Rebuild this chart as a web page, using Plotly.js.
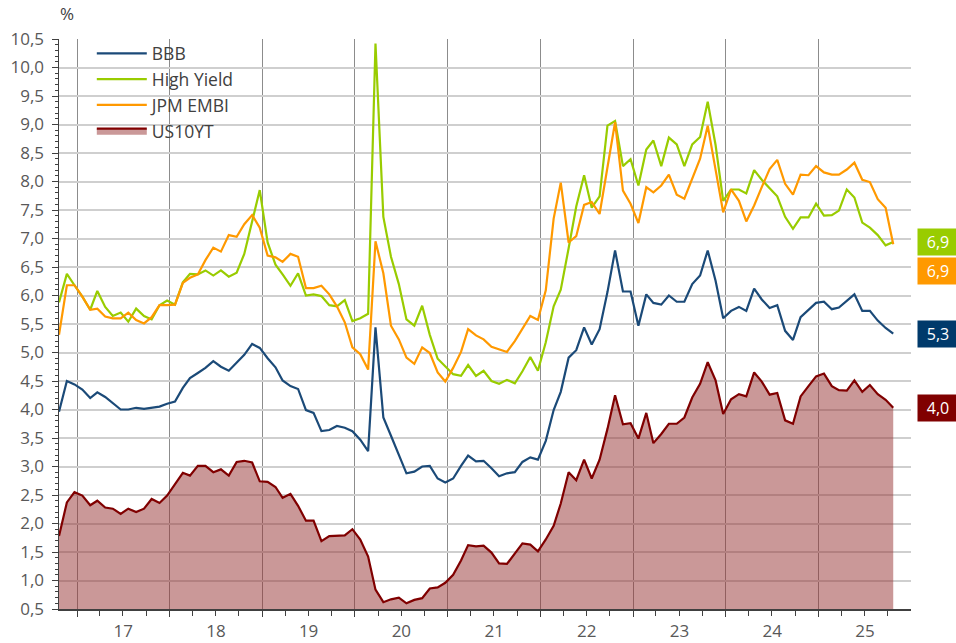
<!DOCTYPE html>
<html>
<head>
<meta charset="utf-8">
<script src="https://cdn.plot.ly/plotly-3.0.1.min.js"></script>
<style>
html,body{margin:0;padding:0;background:#fff;}
#chart{width:956px;height:643px;}
</style>
</head>
<body>
<div id="chart"></div>
<script>
// Monthly observations, Oct 2016 .. Oct 2025
const startYear = 2016, startMonth = 10, nPoints = 109;
const dates = [];
for (let k = 0; k < nPoints; k++) {
  const m0 = startMonth - 1 + k;
  const y = startYear + Math.floor(m0 / 12);
  const m = (m0 % 12) + 1;
  dates.push(y + '-' + String(m).padStart(2, '0') + '-22');
}

const seriesNames = ['BBB', 'High Yield', 'JPM EMBI', 'US10YT'];

const bbb = [3.96,4.50,4.44,4.35,4.20,4.30,4.22,4.11,4.00,4.00,4.03,4.01,4.03,4.05,4.10,4.14,4.38,4.55,4.64,4.73,
4.85,4.75,4.68,4.82,4.96,5.15,5.08,4.90,4.74,4.51,4.41,4.36,3.99,3.94,3.62,3.64,3.71,3.68,3.62,3.47,
3.27,5.44,3.86,3.54,3.21,2.88,2.91,3.00,3.01,2.79,2.72,2.79,3.01,3.19,3.09,3.10,2.97,2.83,2.88,2.90,
3.08,3.16,3.12,3.45,3.99,4.31,4.91,5.04,5.44,5.14,5.41,6.06,6.79,6.07,6.07,5.47,6.02,5.87,5.84,6.00,
5.89,5.89,6.20,6.35,6.79,6.26,5.60,5.73,5.80,5.73,6.12,5.93,5.78,5.83,5.38,5.22,5.62,5.75,5.87,5.89,
5.76,5.79,5.91,6.02,5.73,5.73,5.56,5.43,5.33];

const highYield = [5.88,6.38,6.18,5.98,5.75,6.08,5.80,5.64,5.70,5.54,5.77,5.64,5.58,5.83,5.91,5.84,6.23,6.38,6.37,6.44,
6.35,6.44,6.33,6.40,6.73,7.28,7.85,6.93,6.54,6.37,6.17,6.39,6.00,6.02,5.99,5.83,5.81,5.92,5.55,5.60,
5.68,10.42,7.38,6.68,6.20,5.58,5.47,5.82,5.31,4.89,4.76,4.62,4.59,4.78,4.59,4.68,4.50,4.45,4.52,4.46,
4.67,4.92,4.68,5.18,5.81,6.10,6.83,7.56,8.11,7.54,7.74,8.98,9.06,8.27,8.39,7.93,8.56,8.72,8.27,8.77,
8.65,8.27,8.65,8.78,9.40,8.64,7.66,7.86,7.86,7.79,8.20,8.03,7.88,7.74,7.38,7.17,7.37,7.37,7.61,7.40,
7.41,7.49,7.86,7.72,7.28,7.19,7.06,6.88,6.94];

const jpmEmbi = [5.31,6.18,6.18,5.98,5.75,5.77,5.63,5.60,5.60,5.70,5.57,5.51,5.62,5.83,5.83,5.84,6.22,6.31,6.37,6.62,
6.84,6.77,7.06,7.03,7.25,7.41,7.19,6.70,6.67,6.59,6.73,6.68,6.13,6.13,6.17,6.02,5.81,5.53,5.09,4.97,
4.70,6.95,6.39,5.47,5.23,4.91,4.80,5.09,4.99,4.65,4.49,4.73,5.01,5.41,5.30,5.23,5.10,5.05,5.01,5.20,
5.41,5.64,5.57,6.09,7.35,7.98,6.93,7.04,7.59,7.64,7.43,8.22,9.04,7.84,7.61,7.27,7.90,7.81,7.93,8.12,
7.77,7.70,8.06,8.40,8.98,8.22,7.46,7.86,7.66,7.30,7.58,7.90,8.22,8.38,7.96,7.77,8.12,8.11,8.27,8.16,
8.12,8.12,8.21,8.33,8.03,7.99,7.69,7.54,6.90];

const us10yt = [1.78,2.37,2.55,2.49,2.32,2.40,2.28,2.26,2.17,2.26,2.20,2.26,2.43,2.36,2.49,2.68,2.89,2.84,3.01,3.01,
2.90,2.95,2.84,3.08,3.10,3.07,2.74,2.73,2.64,2.45,2.52,2.31,2.05,2.05,1.69,1.78,1.78,1.79,1.90,1.72,
1.42,0.84,0.62,0.67,0.70,0.60,0.66,0.69,0.86,0.88,0.96,1.10,1.35,1.62,1.60,1.61,1.49,1.30,1.29,1.47,
1.65,1.63,1.51,1.72,1.96,2.35,2.90,2.76,3.12,2.79,3.12,3.66,4.25,3.74,3.76,3.49,3.94,3.41,3.57,3.75,
3.75,3.86,4.21,4.45,4.83,4.51,3.92,4.18,4.27,4.23,4.65,4.49,4.26,4.29,3.81,3.75,4.23,4.41,4.58,4.63,
4.41,4.34,4.33,4.51,4.31,4.43,4.27,4.17,4.03];

const colBBB = '#1b4a78', colHY = '#99cc00', colJPM = '#ff9900', colUS = '#800000';
const fnt = '"Open Sans", "Noto Sans", sans-serif';

const traces = [
  {x: dates, y: us10yt, name: seriesNames[3], type: 'scatter', mode: 'lines', fill: 'tozeroy',
   fillcolor: 'rgba(150,50,50,0.5)', line: {color: colUS, width: 2.2}, legendrank: 4},
  {x: dates, y: bbb, name: seriesNames[0], type: 'scatter', mode: 'lines',
   line: {color: colBBB, width: 2.2}, legendrank: 1},
  {x: dates, y: highYield, name: seriesNames[1], type: 'scatter', mode: 'lines',
   line: {color: colHY, width: 2.2}, legendrank: 2},
  {x: dates, y: jpmEmbi, name: seriesNames[2], type: 'scatter', mode: 'lines',
   line: {color: colJPM, width: 2.2}, legendrank: 3}
];

function lastLabel(arr) { return arr[arr.length - 1].toFixed(1).replace('.', ','); }
function endBox(arr, color, yshift) {
  return {xref: 'paper', yref: 'y', x: 1.007, xanchor: 'left', y: arr[arr.length - 1], yanchor: 'middle',
    yshift: yshift, text: lastLabel(arr), showarrow: false, bgcolor: color, width: 34, height: 20, borderpad: 3,
    font: {family: fnt, size: 16, color: '#ffffff'}, align: 'center'};
}

const layout = {
  width: 956, height: 643,
  margin: {l: 59, r: 45, t: 39, b: 34, pad: 0},
  paper_bgcolor: '#ffffff', plot_bgcolor: '#ffffff',
  separators: ', ',
  showlegend: true,
  legend: {x: 0.0385, y: 1.006, xanchor: 'left', yanchor: 'top', bgcolor: 'rgba(0,0,0,0)',
    font: {family: fnt, size: 17.5, color: '#404040'}, tracegroupgap: 0, itemwidth: 50},
  xaxis: {
    type: 'date', range: ['2016-10-22', '2025-12-31'],
    tick0: '2017-01-01', dtick: 'M12', tickformat: '%y', ticklabelmode: 'period',
    showgrid: true, gridcolor: '#8c8c8c', gridwidth: 1,
    ticks: 'outside', ticklen: 6, tickcolor: '#404040', tickwidth: 1,
    minor: {dtick: 'M3', ticks: 'outside', ticklen: 5, tickcolor: '#404040', showgrid: false},
    showline: true, linecolor: '#404040', linewidth: 1.5,
    tickfont: {family: fnt, size: 17, color: '#595959'}, zeroline: false, fixedrange: true
  },
  yaxis: {
    range: [0.5, 10.5], dtick: 0.5, tick0: 0.5, tickformat: '.1f',
    showgrid: true, gridcolor: '#cfcfcf', gridwidth: 2,
    ticks: 'outside', ticklen: 6, tickcolor: '#404040', tickwidth: 1,
    minor: {dtick: 0.1, ticks: 'outside', ticklen: 3, tickcolor: '#404040', showgrid: false},
    showline: true, linecolor: '#404040', linewidth: 1.5,
    tickfont: {family: fnt, size: 17, color: '#595959'}, zeroline: false, ticklabelstandoff: 4, fixedrange: true
  },
  annotations: [
    {xref: 'paper', yref: 'paper', x: 0.009, y: 1.044, xanchor: 'center', yanchor: 'middle',
     text: '%', showarrow: false, font: {family: fnt, size: 17, color: '#404040'}},
    endBox(highYield, colHY, 0),
    endBox(jpmEmbi, colJPM, -27),
    endBox(bbb, '#003a6b', 0),
    endBox(us10yt, colUS, 0)
  ]
};

Plotly.newPlot('chart', traces, layout, {displayModeBar: false, staticPlot: true});
</script>
</body>
</html>
